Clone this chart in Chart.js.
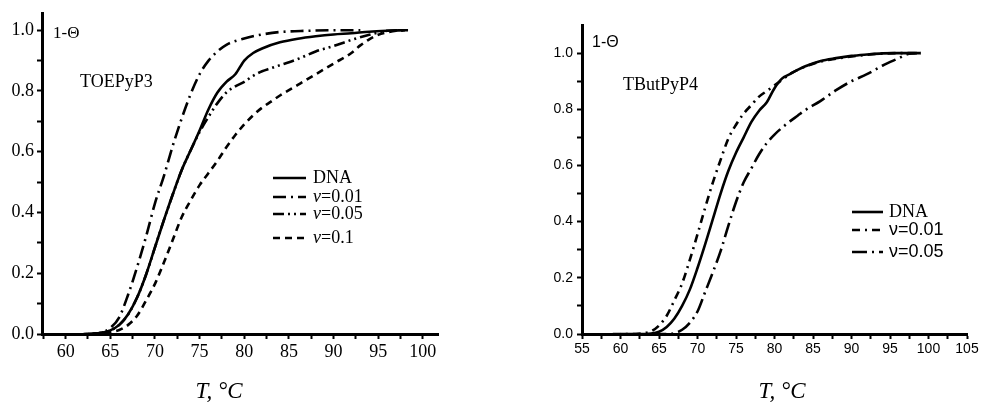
<!DOCTYPE html>
<html>
<head>
<meta charset="utf-8">
<script src="https://cdn.jsdelivr.net/npm/chart.js@4.4.0/dist/chart.umd.min.js"></script>
<style>
    html, body { margin: 0; padding: 0; background: #fff; }
    #wrap { position: relative; width: 982px; height: 403px; overflow: hidden; }
    .box { position: absolute; top: 0; height: 403px; }
    #boxL { left: 0; width: 460px; }
    #boxR { left: 520px; width: 462px; }
</style>
</head>
<body>
<div id="wrap">
    <div class="box" id="boxL"><canvas id="chartL"></canvas></div>
    <div class="box" id="boxR"><canvas id="chartR"></canvas></div>
</div>
<script>
/* ── data: [T (°C), 1-Θ] ── */
var toepLabels = ['DNA', 'ν=0.01', 'ν=0.05', 'ν=0.1'];
var toepDNA = [[62,0],[63,0.001],[64,0.004],[65,0.012],[66,0.03],[67,0.065],[68,0.12],[69,0.195],[70,0.285],[71,0.375],
    [72,0.46],[73,0.54],[74,0.605],[75,0.67],[76,0.74],[77,0.795],[78,0.83],[79,0.855],[80,0.9],[81,0.925],
    [82,0.94],[84,0.96],[86,0.972],[88,0.98],[90,0.986],[92,0.99],[94,0.995],[96,0.998],[98,1.0]];
var toep001 = [[62.5,0],[64,0.005],[65,0.02],[66,0.055],[67,0.13],[68,0.22],[69,0.32],[70,0.43],[71,0.52],
    [72,0.62],[73,0.71],[74,0.79],[75,0.855],[76,0.9],[77,0.93],[78,0.952],[80,0.973],[82,0.986],[84,0.994],
    [87,0.998],[90,1.0],[93,1.0]];
var toep005 = [[63,0],[64,0.004],[65,0.012],[66,0.03],[67,0.065],[68,0.12],[69,0.195],[70,0.285],[71,0.375],
    [72,0.46],[73,0.54],[74,0.605],[75,0.665],[76,0.715],[77,0.76],[78,0.795],[79,0.815],[80,0.83],[81,0.85],
    [82,0.865],[83,0.875],[84,0.885],[86,0.905],[88,0.93],[90,0.948],[92,0.968],[94,0.985],[96,0.998],[98,1.0]];
var toep01 = [[63,0],[64,0.002],[65,0.006],[66,0.013],[67,0.03],[68,0.06],[69,0.11],[70,0.165],[71,0.235],
    [72,0.31],[73,0.385],[74,0.44],[75,0.49],[76,0.53],[77,0.57],[78,0.615],[79,0.655],[80,0.69],[81,0.72],
    [82,0.745],[83,0.765],[84,0.785],[86,0.82],[88,0.855],[90,0.89],[92,0.925],[93,0.95],[94,0.97],[95,0.985],
    [96,0.993],[98,1.0],[98.6,1.0]];

var butLabels = ['DNA', 'ν=0.01', 'ν=0.05'];
var butDNA = [[60,0],[62,0],[64,0.002],[65,0.008],[66,0.025],[67,0.055],[68,0.1],[69,0.158],[70,0.235],[71,0.32],
    [72,0.41],[73,0.5],[74,0.58],[75,0.645],[76,0.7],[77,0.755],[78,0.795],[79,0.825],[80,0.875],[81,0.91],
    [82,0.925],[83,0.94],[84,0.953],[86,0.972],[88,0.982],[90,0.99],[92,0.995],[94,0.999],[96,1.0],[99,1.0]];
var but001 = [[59,0],[62,0],[63,0.003],[64,0.01],[65,0.03],[66,0.065],[67,0.12],[68,0.18],[69,0.264],[70,0.355],
    [71,0.45],[72,0.54],[73,0.62],[74,0.695],[75,0.745],[76,0.785],[77,0.815],[78,0.845],[79,0.865],[80,0.885],
    [81,0.905],[82,0.925],[83,0.94],[84,0.952],[86,0.97],[88,0.98],[90,0.988],[92,0.994],[94,0.998],[96,1.0],[99,1.0]];
var but005 = [[64,0],[66,0],[67,0.003],[68,0.015],[69,0.04],[70,0.08],[71,0.15],[72,0.22],[73,0.295],[74,0.385],
    [75,0.47],[76,0.54],[77,0.59],[78,0.64],[79,0.68],[80,0.71],[81,0.735],[82,0.757],[83,0.777],[84,0.797],
    [86,0.83],[88,0.868],[90,0.9],[92,0.925],[94,0.955],[96,0.98],[97.5,0.998],[98.5,1.0]];

var SERIF = "'Liberation Serif', 'Times New Roman', serif";
var SANS = "'Liberation Sans', Arial, sans-serif";

function pts(arr) {
    return arr.map(function (p) { return { x: p[0], y: p[1] }; });
}

function ds(label, arr, dash) {
    return {
        label: label,
        data: pts(arr),
        borderColor: '#000',
        borderWidth: 2.6,
        borderDash: dash,
        pointRadius: 0,
        fill: false,
        cubicInterpolationMode: 'monotone'
    };
}

/* keep only ticks on a given step, at most `top` */
function onStep(step, top) {
    return function (scale) {
        scale.ticks = scale.ticks.filter(function (t) {
            var k = t.value / step;
            return Math.abs(k - Math.round(k)) < 1e-6 && (top === undefined || t.value <= top + 1e-9);
        });
    };
}

/* texts: 1-Θ, compound name, legend, axis title */
var notesPlugin = {
    id: 'notes',
    afterDraw: function (chart) {
        var o = chart.options.plugins.notes;
        if (!o) return;
        var c = chart.ctx;
        c.save();
        c.fillStyle = '#000';
        c.textBaseline = 'middle';
        c.textAlign = 'left';

        c.font = o.thetaFont;
        c.fillText('1-Θ', o.theta[0], o.theta[1]);

        c.font = '18px ' + SERIF;
        c.fillText(o.name, o.nameAt[0], o.nameAt[1]);

        // legend
        chart.data.datasets.forEach(function (d, i) {
            var y = o.legRows[i];
            c.beginPath();
            c.setLineDash(d.borderDash || []);
            c.lineWidth = 2.6;
            c.strokeStyle = '#000';
            c.moveTo(o.legX[0], y);
            c.lineTo(o.legX[1], y);
            c.stroke();
            c.setLineDash([]);
            var x = o.legX[2];
            if (d.label === 'DNA') {
                c.font = '18px ' + SERIF;
                c.fillText('DNA', x, y);
            } else {
                c.font = o.nuFont;
                c.fillText('ν', x, y);
                x += c.measureText('ν').width;
                c.font = o.legFont;
                c.fillText(d.label.slice(1), x, y);
            }
        });

        // axis title
        c.font = 'italic 23px ' + SERIF;
        c.textAlign = 'center';
        c.fillText('T, °C', o.titleAt[0], o.titleAt[1]);
        c.restore();
    }
};

function makeChart(id, sets, cfg) {
    return new Chart(document.getElementById(id), {
        type: 'line',
        data: { datasets: sets },
        plugins: [notesPlugin],
        options: {
            responsive: true,
            maintainAspectRatio: false,
            animation: false,
            layout: { padding: { top: cfg.top, right: cfg.right, left: 0, bottom: 0 } },
            plugins: {
                legend: { display: false },
                tooltip: { enabled: false },
                notes: cfg.notes
            },
            scales: {
                x: {
                    type: 'linear',
                    min: cfg.xMin,
                    max: cfg.xMax,
                    afterBuildTicks: onStep(2.5),
                    afterFit: function (s) { s.height = 403 - 334; },
                    border: { display: true, color: '#000', width: 3 },
                    grid: { drawOnChartArea: false, drawTicks: true, tickLength: 5, tickColor: '#000', tickWidth: 2 },
                    ticks: {
                        stepSize: 2.5,
                        includeBounds: false,
                        autoSkip: false,
                        maxRotation: 0,
                        color: '#000',
                        padding: 2,
                        font: { family: cfg.tickFamily, size: cfg.tickSize },
                        callback: function (v) { return v % 5 === 0 ? String(v) : ''; }
                    }
                },
                y: {
                    min: 0,
                    max: cfg.yMax,
                    afterBuildTicks: onStep(0.1, 1.0),
                    afterFit: function (s) { s.width = cfg.yWidth; },
                    border: { display: true, color: '#000', width: 3 },
                    grid: { drawOnChartArea: false, drawTicks: true, tickLength: 5, tickColor: '#000', tickWidth: 2 },
                    ticks: {
                        stepSize: 0.1,
                        includeBounds: false,
                        autoSkip: false,
                        color: '#000',
                        padding: cfg.yPad,
                        font: { family: cfg.tickFamily, size: cfg.tickSize },
                        callback: function (v) {
                            var k = Math.round(v * 10);
                            return k % 2 === 0 ? (k / 10).toFixed(1) : '';
                        }
                    }
                }
            }
        }
    });
}

/* left panel — TOEPyP3 */
makeChart('chartL', [
    ds(toepLabels[0], toepDNA, []),
    ds(toepLabels[1], toep001, [13, 5, 2, 5]),
    ds(toepLabels[2], toep005, [11, 4, 2, 4, 2, 4]),
    ds(toepLabels[3], toep01, [7, 5])
], {
    xMin: 57.35, xMax: 101.7, yMax: 1.054,
    top: 13, right: 22, yWidth: 42, yPad: 3,
    tickFamily: SERIF, tickSize: 18,
    notes: {
        thetaFont: '17px ' + SERIF, theta: [53, 34],
        name: 'TOEPyP3', nameAt: [80, 82],
        legX: [273, 306, 313], legRows: [178, 197, 214, 238],
        nuFont: 'italic 18px ' + SERIF, legFont: '18px ' + SERIF,
        titleAt: [219, 392]
    }
});

/* right panel — TButPyP4 */
makeChart('chartR', [
    ds(butLabels[0], butDNA, []),
    ds(butLabels[1], but001, [8, 5, 2, 5]),
    ds(butLabels[2], but005, [15, 5, 2, 5])
], {
    xMin: 55, xMax: 105, yMax: 1.1,
    top: 25, right: 15, yWidth: 62, yPad: 4,
    tickFamily: SANS, tickSize: 14,
    notes: {
        thetaFont: '16px ' + SANS, theta: [72, 43],
        name: 'TButPyP4', nameAt: [103, 85],
        legX: [332, 363, 369], legRows: [212, 230, 252],
        nuFont: '18px ' + SANS, legFont: '18px ' + SANS,
        titleAt: [262, 392]
    }
});
</script>
</body>
</html>
